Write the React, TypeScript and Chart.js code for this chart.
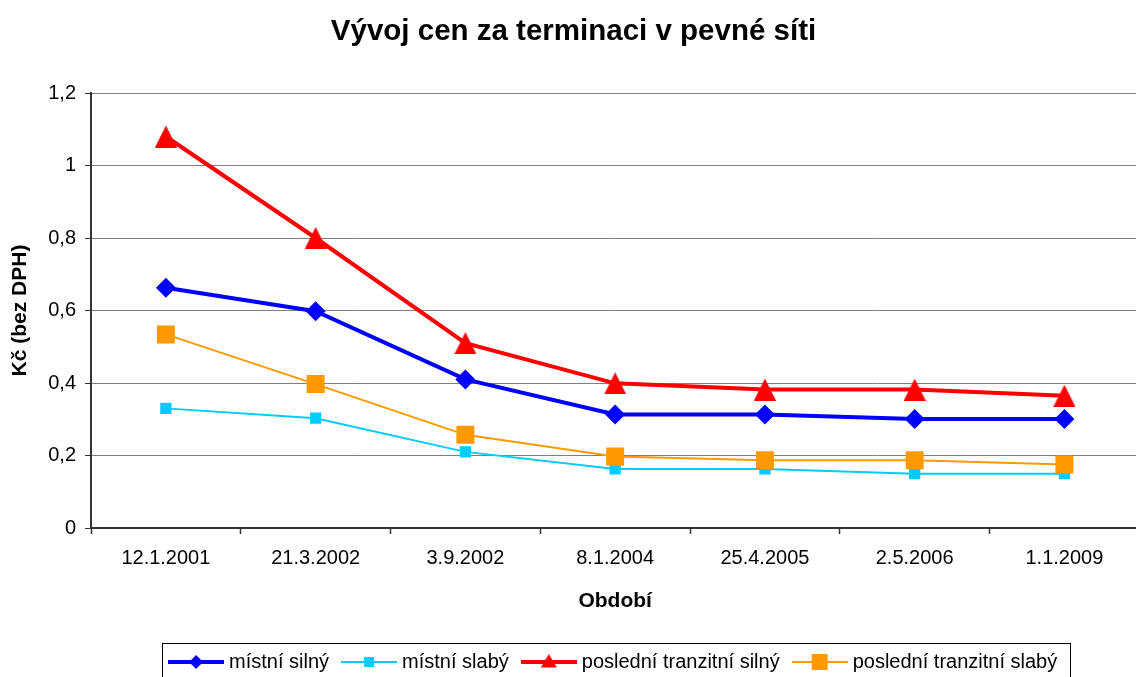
import React, { useEffect, useRef } from 'react';
import { Chart, registerables } from 'chart.js';

Chart.register(...registerables);

const categories = ['12.1.2001', '21.3.2002', '3.9.2002', '8.1.2004', '25.4.2005', '2.5.2006', '1.1.2009'];
const mistniSilny = [0.663, 0.598, 0.41, 0.313, 0.313, 0.301, 0.301];
const mistniSlaby = [0.33, 0.303, 0.21, 0.163, 0.163, 0.15, 0.15];
const tranzitniSilny = [1.08, 0.8, 0.51, 0.399, 0.382, 0.382, 0.365];
const tranzitniSlaby = [0.534, 0.397, 0.257, 0.197, 0.187, 0.187, 0.175];
const seriesNames = ['místní silný', 'místní slabý', 'poslední tranzitní silný', 'poslední tranzitní slabý'];
const seriesColors = ['#0000FF', '#00CCFF', '#FF0000', '#FF9900'];
const yMin = 0;
const yMax = 1.2;
const yStep = 0.2;

const FONT = 'Arial, "Liberation Sans", Helvetica, sans-serif';

function makeTriangle(size: number, color: string) {
  const c = document.createElement('canvas');
  c.width = size;
  c.height = size;
  const ctx = c.getContext('2d')!;
  ctx.fillStyle = color;
  ctx.beginPath();
  ctx.moveTo(size / 2, 0);
  ctx.lineTo(size, size);
  ctx.lineTo(0, size);
  ctx.closePath();
  ctx.fill();
  return c;
}

function makeIcon(color: string, lw: number, kind: string, s: number) {
  const c = document.createElement('canvas');
  c.width = 56;
  c.height = 24;
  const ctx = c.getContext('2d')!;
  ctx.strokeStyle = color;
  ctx.fillStyle = color;
  ctx.lineWidth = lw;
  ctx.beginPath();
  ctx.moveTo(0, 12);
  ctx.lineTo(56, 12);
  ctx.stroke();
  const cx = 28, cy = 12;
  ctx.beginPath();
  if (kind === 'diamond') {
    ctx.moveTo(cx, cy - s);
    ctx.lineTo(cx + s, cy);
    ctx.lineTo(cx, cy + s);
    ctx.lineTo(cx - s, cy);
  } else if (kind === 'square') {
    ctx.rect(cx - s, cy - s, 2 * s, 2 * s);
  } else {
    ctx.moveTo(cx, cy - s);
    ctx.lineTo(cx + s, cy + s * 0.7);
    ctx.lineTo(cx - s, cy + s * 0.7);
  }
  ctx.closePath();
  ctx.fill();
  return c;
}

export default function App() {
  const ref = useRef<HTMLCanvasElement | null>(null);

  useEffect(() => {
    const canvas = ref.current;
    if (!canvas) return;
    const triangle = makeTriangle(22, seriesColors[2]);
    const icons = [
      makeIcon(seriesColors[0], 4, 'diamond', 7),
      makeIcon(seriesColors[1], 2, 'square', 5),
      makeIcon(seriesColors[2], 4, 'triangle', 8),
      makeIcon(seriesColors[3], 2, 'square', 8),
    ];

    const legendBorder = {
      id: 'legendBorder',
      afterDraw(chart: any) {
        const lg = chart.legend;
        if (!lg || !lg.legendHitBoxes || !lg.legendHitBoxes.length) return;
        const hb = lg.legendHitBoxes;
        let l = Infinity, r = -Infinity;
        hb.forEach((h: any) => {
          l = Math.min(l, h.left);
          r = Math.max(r, h.left + h.width);
        });
        const cy = hb[0].top + hb[0].height / 2;
        const ctx = chart.ctx;
        ctx.save();
        ctx.strokeStyle = '#000';
        ctx.lineWidth = 1;
        ctx.strokeRect(Math.round(l - 11) + 0.5, Math.round(cy - 19) + 0.5, Math.round(r - l + 24), 44);
        ctx.restore();
      },
    };

    const chart = new Chart(canvas, {
      type: 'line',
      data: {
        labels: categories,
        datasets: [
          {
            label: seriesNames[0],
            data: mistniSilny,
            borderColor: seriesColors[0],
            backgroundColor: seriesColors[0],
            borderWidth: 4,
            pointStyle: 'rectRot',
            pointRadius: 10,
            pointBorderWidth: 0,
            order: 3,
          },
          {
            label: seriesNames[1],
            data: mistniSlaby,
            borderColor: seriesColors[1],
            backgroundColor: seriesColors[1],
            borderWidth: 2,
            pointStyle: 'rect',
            pointRadius: 8,
            pointBorderWidth: 0,
            order: 2,
          },
          {
            label: seriesNames[2],
            data: tranzitniSilny,
            borderColor: seriesColors[2],
            backgroundColor: seriesColors[2],
            borderWidth: 4,
            pointStyle: triangle as any,
            pointRadius: 11,
            pointBorderWidth: 0,
            order: 1,
          },
          {
            label: seriesNames[3],
            data: tranzitniSlaby,
            borderColor: seriesColors[3],
            backgroundColor: seriesColors[3],
            borderWidth: 2,
            pointStyle: 'rect',
            pointRadius: 12.7,
            pointBorderWidth: 0,
            order: 0,
          },
        ],
      },
      options: {
        responsive: false,
        animation: false,
        devicePixelRatio: 1,
        layout: { padding: { left: 0, right: 5, top: 0, bottom: 8 } },
        plugins: {
          tooltip: { enabled: false },
          title: {
            display: true,
            text: 'Vývoj cen za terminaci v pevné síti',
            color: '#000',
            font: { family: FONT, size: 29.5, weight: 'bold' },
            padding: { top: 14, bottom: 43.6 },
          },
          legend: {
            display: true,
            position: 'bottom',
            fullSize: false,
            labels: {
              usePointStyle: true,
              pointStyleWidth: 46,
              padding: 17,
              color: '#000',
              font: { family: FONT, size: 20 },
              sort: (a: any, b: any) => a.datasetIndex - b.datasetIndex,
              generateLabels: (ch: any) => {
                const items = (Chart.defaults.plugins.legend.labels as any).generateLabels(ch);
                items.forEach((it: any) => {
                  it.pointStyle = icons[it.datasetIndex];
                });
                return items;
              },
            },
          },
        },
        scales: {
          x: {
            offset: true,
            afterFit: (s: any) => {
              s.height = 107;
            },
            grid: {
              offset: true,
              drawOnChartArea: false,
              drawTicks: true,
              tickLength: 6,
              tickColor: '#333',
              tickWidth: 1.5,
            },
            border: { color: '#333', width: 2 },
            ticks: { color: '#000', padding: 12, font: { family: FONT, size: 20 } },
            title: {
              display: true,
              text: 'Období',
              color: '#000',
              font: { family: FONT, size: 21, weight: 'bold' },
              padding: { top: 0, bottom: 21.4 },
            },
          },
          y: {
            min: yMin,
            max: yMax,
            afterFit: (s: any) => {
              s.width = 91;
            },
            grid: {
              color: '#7f7f7f',
              lineWidth: 1,
              drawTicks: true,
              tickLength: 6,
              tickColor: '#333',
            },
            border: { color: '#333', width: 2 },
            ticks: {
              stepSize: yStep,
              color: '#000',
              padding: 9,
              font: { family: FONT, size: 20 },
              callback: (v: any) => {
                const n = Number(v);
                if (Math.abs(n) < 1e-9) return '0';
                return n.toFixed(1).replace(/\.0$/, '').replace('.', ',');
              },
            },
            title: {
              display: true,
              text: 'Kč (bez DPH)',
              color: '#000',
              font: { family: FONT, size: 21, weight: 'bold' },
              padding: { top: 7.4, bottom: 0 },
            },
          },
        },
      },
      plugins: [legendBorder],
    });

    return () => chart.destroy();
  }, []);

  return (
    <div style={{ position: 'fixed', left: 0, top: 0, width: 1152, height: 690, background: '#fff' }}>
      <canvas ref={ref} width={1152} height={690} style={{ width: 1152, height: 690, display: 'block' }} />
    </div>
  );
}
